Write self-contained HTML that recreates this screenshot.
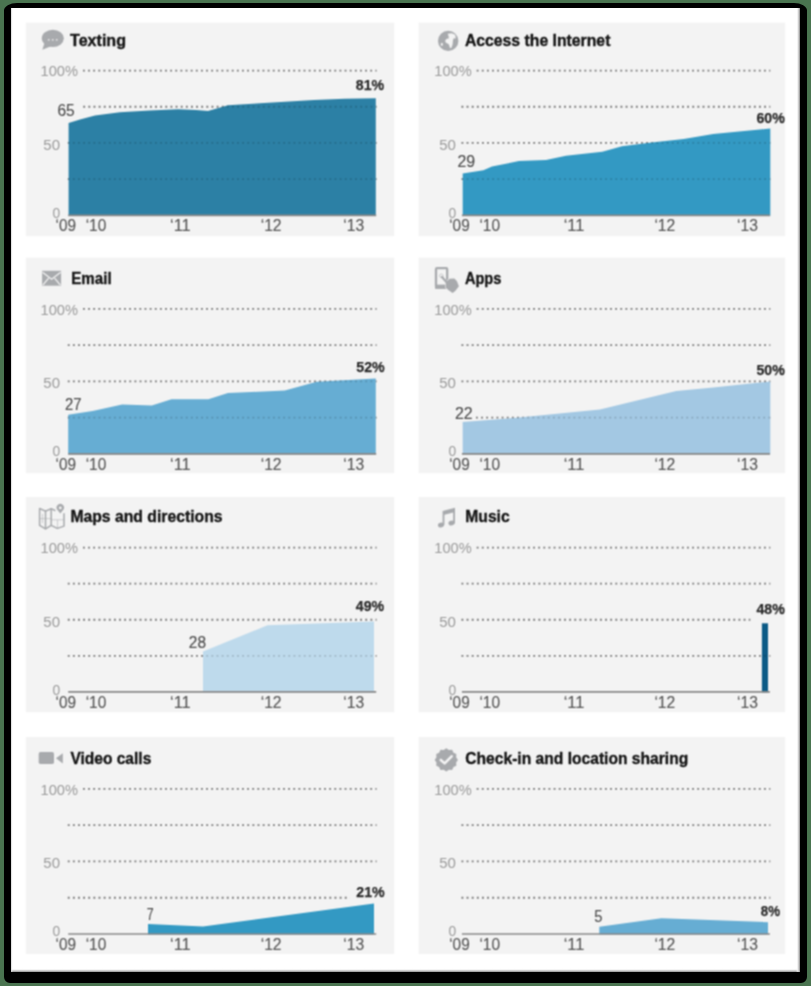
<!DOCTYPE html>
<html><head><meta charset="utf-8"><title>Cell phone activities</title>
<style>html,body{margin:0;padding:0;width:811px;height:986px;overflow:hidden;background:#4a7450;}#chart{position:absolute;left:0;top:0;font-family:"Liberation Sans", sans-serif;}svg text{font-family:"Liberation Sans", sans-serif;}</style>
</head><body>
<svg width="811" height="986" viewBox="0 0 811 986" id="chart"><defs><filter id="soft" x="0" y="0" width="100%" height="100%" color-interpolation-filters="sRGB"><feConvolveMatrix order="3" kernelMatrix="1 2.0 1 2.0 4.0 2.0 1 2.0 1" divisor="16.0" edgeMode="duplicate" preserveAlpha="true"/></filter><linearGradient id="bevB" x1="0" y1="0" x2="0" y2="1"><stop offset="0" stop-color="#fff" stop-opacity="0"/><stop offset="0.5" stop-color="#e8e8e8"/><stop offset="1" stop-color="#8c8c8c"/></linearGradient><linearGradient id="bevR" x1="0" y1="0" x2="1" y2="0"><stop offset="0" stop-color="#fff" stop-opacity="0"/><stop offset="0.5" stop-color="#e6e6e6"/><stop offset="1" stop-color="#8c8c8c"/></linearGradient><linearGradient id="bevL" x1="0" y1="0" x2="1" y2="0"><stop offset="0" stop-color="#ccc"/><stop offset="1" stop-color="#fff" stop-opacity="0"/></linearGradient></defs><rect x="0" y="0" width="811" height="986" fill="#4a7450"/><path d="M17,3 H794 A13,7.5 0 0 1 807,10.5 V977 A6,6 0 0 1 801,983 H10 A6,6 0 0 1 4,977 V10.5 A13,7.5 0 0 1 17,3 Z" fill="#000"/><rect x="11" y="8" width="789" height="963.8" fill="#fff"/><rect x="11" y="968.3" width="789" height="3.5" fill="url(#bevB)"/><rect x="796" y="8" width="4" height="963.8" fill="url(#bevR)"/><rect x="11" y="8" width="2" height="963.8" fill="url(#bevL)"/><g filter="url(#soft)"><rect x="14" y="10" width="783" height="958" fill="#fff"/><rect x="25.8" y="22.6" width="368.50" height="213.60" fill="#f3f3f3"/><rect x="418.6" y="22.6" width="366.60" height="213.60" fill="#f3f3f3"/><rect x="25.8" y="257.6" width="368.50" height="215.60" fill="#f3f3f3"/><rect x="418.6" y="257.6" width="366.60" height="215.60" fill="#f3f3f3"/><rect x="25.8" y="497.0" width="368.50" height="215.30" fill="#f3f3f3"/><rect x="418.6" y="497.0" width="366.60" height="215.30" fill="#f3f3f3"/><rect x="25.8" y="737.0" width="368.50" height="217.00" fill="#f3f3f3"/><rect x="418.6" y="737.0" width="366.60" height="217.00" fill="#f3f3f3"/><g><line x1="83.00" y1="70.60" x2="376.60" y2="70.60" stroke="rgba(0,0,0,0.40)" stroke-width="1.8" stroke-dasharray="1.8 3.33"/><line x1="83.30" y1="106.77" x2="376.60" y2="106.77" stroke="rgba(0,0,0,0.40)" stroke-width="1.8" stroke-dasharray="1.8 3.33"/><line x1="67.80" y1="142.95" x2="376.60" y2="142.95" stroke="rgba(0,0,0,0.40)" stroke-width="1.8" stroke-dasharray="1.8 3.33"/><line x1="67.80" y1="179.12" x2="376.60" y2="179.12" stroke="rgba(0,0,0,0.40)" stroke-width="1.8" stroke-dasharray="1.8 3.33"/><line x1="476.70" y1="70.60" x2="770.30" y2="70.60" stroke="rgba(0,0,0,0.40)" stroke-width="1.8" stroke-dasharray="1.8 3.33"/><line x1="461.50" y1="106.77" x2="770.30" y2="106.77" stroke="rgba(0,0,0,0.40)" stroke-width="1.8" stroke-dasharray="1.8 3.33"/><line x1="461.50" y1="142.95" x2="770.30" y2="142.95" stroke="rgba(0,0,0,0.40)" stroke-width="1.8" stroke-dasharray="1.8 3.33"/><line x1="461.50" y1="179.12" x2="770.30" y2="179.12" stroke="rgba(0,0,0,0.40)" stroke-width="1.8" stroke-dasharray="1.8 3.33"/><line x1="83.00" y1="308.90" x2="376.60" y2="308.90" stroke="rgba(0,0,0,0.40)" stroke-width="1.8" stroke-dasharray="1.8 3.33"/><line x1="67.80" y1="345.15" x2="376.60" y2="345.15" stroke="rgba(0,0,0,0.40)" stroke-width="1.8" stroke-dasharray="1.8 3.33"/><line x1="67.80" y1="381.40" x2="376.60" y2="381.40" stroke="rgba(0,0,0,0.40)" stroke-width="1.8" stroke-dasharray="1.8 3.33"/><line x1="67.80" y1="417.65" x2="376.60" y2="417.65" stroke="rgba(0,0,0,0.40)" stroke-width="1.8" stroke-dasharray="1.8 3.33"/><line x1="476.70" y1="308.90" x2="770.30" y2="308.90" stroke="rgba(0,0,0,0.40)" stroke-width="1.8" stroke-dasharray="1.8 3.33"/><line x1="461.50" y1="345.15" x2="770.30" y2="345.15" stroke="rgba(0,0,0,0.40)" stroke-width="1.8" stroke-dasharray="1.8 3.33"/><line x1="461.50" y1="381.40" x2="770.30" y2="381.40" stroke="rgba(0,0,0,0.40)" stroke-width="1.8" stroke-dasharray="1.8 3.33"/><line x1="476.00" y1="417.65" x2="770.30" y2="417.65" stroke="rgba(0,0,0,0.40)" stroke-width="1.8" stroke-dasharray="1.8 3.33"/><line x1="83.00" y1="547.60" x2="376.60" y2="547.60" stroke="rgba(0,0,0,0.40)" stroke-width="1.8" stroke-dasharray="1.8 3.33"/><line x1="67.80" y1="583.67" x2="376.60" y2="583.67" stroke="rgba(0,0,0,0.40)" stroke-width="1.8" stroke-dasharray="1.8 3.33"/><line x1="67.80" y1="619.75" x2="376.60" y2="619.75" stroke="rgba(0,0,0,0.40)" stroke-width="1.8" stroke-dasharray="1.8 3.33"/><line x1="67.80" y1="655.83" x2="376.60" y2="655.83" stroke="rgba(0,0,0,0.40)" stroke-width="1.8" stroke-dasharray="1.8 3.33"/><line x1="476.70" y1="547.60" x2="770.30" y2="547.60" stroke="rgba(0,0,0,0.40)" stroke-width="1.8" stroke-dasharray="1.8 3.33"/><line x1="461.50" y1="583.67" x2="770.30" y2="583.67" stroke="rgba(0,0,0,0.40)" stroke-width="1.8" stroke-dasharray="1.8 3.33"/><line x1="461.50" y1="619.75" x2="750.30" y2="619.75" stroke="rgba(0,0,0,0.40)" stroke-width="1.8" stroke-dasharray="1.8 3.33"/><line x1="461.50" y1="655.83" x2="770.30" y2="655.83" stroke="rgba(0,0,0,0.40)" stroke-width="1.8" stroke-dasharray="1.8 3.33"/><line x1="83.00" y1="788.90" x2="376.60" y2="788.90" stroke="rgba(0,0,0,0.40)" stroke-width="1.8" stroke-dasharray="1.8 3.33"/><line x1="67.80" y1="825.17" x2="376.60" y2="825.17" stroke="rgba(0,0,0,0.40)" stroke-width="1.8" stroke-dasharray="1.8 3.33"/><line x1="67.80" y1="861.45" x2="376.60" y2="861.45" stroke="rgba(0,0,0,0.40)" stroke-width="1.8" stroke-dasharray="1.8 3.33"/><line x1="67.80" y1="897.73" x2="350.00" y2="897.73" stroke="rgba(0,0,0,0.40)" stroke-width="1.8" stroke-dasharray="1.8 3.33"/><line x1="476.70" y1="788.90" x2="770.30" y2="788.90" stroke="rgba(0,0,0,0.40)" stroke-width="1.8" stroke-dasharray="1.8 3.33"/><line x1="461.50" y1="825.17" x2="770.30" y2="825.17" stroke="rgba(0,0,0,0.40)" stroke-width="1.8" stroke-dasharray="1.8 3.33"/><line x1="461.50" y1="861.45" x2="770.30" y2="861.45" stroke="rgba(0,0,0,0.40)" stroke-width="1.8" stroke-dasharray="1.8 3.33"/><line x1="461.50" y1="897.73" x2="770.30" y2="897.73" stroke="rgba(0,0,0,0.40)" stroke-width="1.8" stroke-dasharray="1.8 3.33"/><path d="M68.60,215.90 L68.60,122.90 L80.00,119.50 L95.00,115.50 L120.00,112.20 L150.00,110.40 L178.00,109.30 L196.00,110.00 L208.00,110.90 L228.00,105.30 L260.00,103.20 L314.00,100.00 L345.00,98.80 L375.80,98.20 L375.80,215.90 Z" fill="#2c80a5"/><path d="M462.70,215.90 L462.70,173.40 L483.40,170.20 L492.00,166.50 L519.00,161.00 L546.00,160.00 L566.00,155.70 L602.30,151.70 L622.00,146.30 L651.70,142.60 L683.70,139.00 L713.30,134.00 L770.30,128.60 L770.30,215.90 Z" fill="#3399c3"/><path d="M68.20,454.50 L68.20,414.80 L92.60,411.10 L122.20,404.50 L151.80,405.50 L171.50,399.30 L208.30,399.30 L228.00,393.00 L284.80,390.60 L316.80,381.70 L375.80,378.60 L375.80,454.50 Z" fill="#66add3"/><path d="M462.70,454.50 L462.70,421.90 L516.60,417.80 L599.90,409.60 L676.30,391.10 L713.30,387.40 L770.30,381.40 L770.30,454.50 Z" fill="#a3c8e3"/><path d="M203.00,692.50 L203.00,651.60 L267.50,625.20 L374.00,621.50 L374.00,692.50 Z" fill="#bedaec"/><path d="M761.90,692.50 L761.90,623.30 L768.00,623.30 L768.00,692.50 Z" fill="#0c5b86"/><path d="M148.00,934.60 L148.00,924.00 L203.00,926.40 L374.00,903.40 L374.00,934.60 Z" fill="#3399c3"/><path d="M599.30,934.60 L599.30,926.70 L661.50,918.30 L768.00,922.20 L768.00,934.60 Z" fill="#66add3"/><line x1="83.00" y1="70.60" x2="376.60" y2="70.60" stroke="rgba(0,0,0,0.16)" stroke-width="1.8" stroke-dasharray="1.8 3.33"/><line x1="83.30" y1="106.77" x2="376.60" y2="106.77" stroke="rgba(0,0,0,0.16)" stroke-width="1.8" stroke-dasharray="1.8 3.33"/><line x1="67.80" y1="142.95" x2="376.60" y2="142.95" stroke="rgba(0,0,0,0.16)" stroke-width="1.8" stroke-dasharray="1.8 3.33"/><line x1="67.80" y1="179.12" x2="376.60" y2="179.12" stroke="rgba(0,0,0,0.16)" stroke-width="1.8" stroke-dasharray="1.8 3.33"/><line x1="476.70" y1="70.60" x2="770.30" y2="70.60" stroke="rgba(0,0,0,0.16)" stroke-width="1.8" stroke-dasharray="1.8 3.33"/><line x1="461.50" y1="106.77" x2="770.30" y2="106.77" stroke="rgba(0,0,0,0.16)" stroke-width="1.8" stroke-dasharray="1.8 3.33"/><line x1="461.50" y1="142.95" x2="770.30" y2="142.95" stroke="rgba(0,0,0,0.16)" stroke-width="1.8" stroke-dasharray="1.8 3.33"/><line x1="461.50" y1="179.12" x2="770.30" y2="179.12" stroke="rgba(0,0,0,0.16)" stroke-width="1.8" stroke-dasharray="1.8 3.33"/><line x1="83.00" y1="308.90" x2="376.60" y2="308.90" stroke="rgba(0,0,0,0.16)" stroke-width="1.8" stroke-dasharray="1.8 3.33"/><line x1="67.80" y1="345.15" x2="376.60" y2="345.15" stroke="rgba(0,0,0,0.16)" stroke-width="1.8" stroke-dasharray="1.8 3.33"/><line x1="67.80" y1="381.40" x2="376.60" y2="381.40" stroke="rgba(0,0,0,0.16)" stroke-width="1.8" stroke-dasharray="1.8 3.33"/><line x1="67.80" y1="417.65" x2="376.60" y2="417.65" stroke="rgba(0,0,0,0.16)" stroke-width="1.8" stroke-dasharray="1.8 3.33"/><line x1="476.70" y1="308.90" x2="770.30" y2="308.90" stroke="rgba(0,0,0,0.16)" stroke-width="1.8" stroke-dasharray="1.8 3.33"/><line x1="461.50" y1="345.15" x2="770.30" y2="345.15" stroke="rgba(0,0,0,0.16)" stroke-width="1.8" stroke-dasharray="1.8 3.33"/><line x1="461.50" y1="381.40" x2="770.30" y2="381.40" stroke="rgba(0,0,0,0.16)" stroke-width="1.8" stroke-dasharray="1.8 3.33"/><line x1="476.00" y1="417.65" x2="770.30" y2="417.65" stroke="rgba(0,0,0,0.16)" stroke-width="1.8" stroke-dasharray="1.8 3.33"/><line x1="83.00" y1="547.60" x2="376.60" y2="547.60" stroke="rgba(0,0,0,0.16)" stroke-width="1.8" stroke-dasharray="1.8 3.33"/><line x1="67.80" y1="583.67" x2="376.60" y2="583.67" stroke="rgba(0,0,0,0.16)" stroke-width="1.8" stroke-dasharray="1.8 3.33"/><line x1="67.80" y1="619.75" x2="376.60" y2="619.75" stroke="rgba(0,0,0,0.16)" stroke-width="1.8" stroke-dasharray="1.8 3.33"/><line x1="67.80" y1="655.83" x2="376.60" y2="655.83" stroke="rgba(0,0,0,0.16)" stroke-width="1.8" stroke-dasharray="1.8 3.33"/><line x1="476.70" y1="547.60" x2="770.30" y2="547.60" stroke="rgba(0,0,0,0.16)" stroke-width="1.8" stroke-dasharray="1.8 3.33"/><line x1="461.50" y1="583.67" x2="770.30" y2="583.67" stroke="rgba(0,0,0,0.16)" stroke-width="1.8" stroke-dasharray="1.8 3.33"/><line x1="461.50" y1="619.75" x2="750.30" y2="619.75" stroke="rgba(0,0,0,0.16)" stroke-width="1.8" stroke-dasharray="1.8 3.33"/><line x1="461.50" y1="655.83" x2="770.30" y2="655.83" stroke="rgba(0,0,0,0.16)" stroke-width="1.8" stroke-dasharray="1.8 3.33"/><line x1="83.00" y1="788.90" x2="376.60" y2="788.90" stroke="rgba(0,0,0,0.16)" stroke-width="1.8" stroke-dasharray="1.8 3.33"/><line x1="67.80" y1="825.17" x2="376.60" y2="825.17" stroke="rgba(0,0,0,0.16)" stroke-width="1.8" stroke-dasharray="1.8 3.33"/><line x1="67.80" y1="861.45" x2="376.60" y2="861.45" stroke="rgba(0,0,0,0.16)" stroke-width="1.8" stroke-dasharray="1.8 3.33"/><line x1="67.80" y1="897.73" x2="350.00" y2="897.73" stroke="rgba(0,0,0,0.16)" stroke-width="1.8" stroke-dasharray="1.8 3.33"/><line x1="476.70" y1="788.90" x2="770.30" y2="788.90" stroke="rgba(0,0,0,0.16)" stroke-width="1.8" stroke-dasharray="1.8 3.33"/><line x1="461.50" y1="825.17" x2="770.30" y2="825.17" stroke="rgba(0,0,0,0.16)" stroke-width="1.8" stroke-dasharray="1.8 3.33"/><line x1="461.50" y1="861.45" x2="770.30" y2="861.45" stroke="rgba(0,0,0,0.16)" stroke-width="1.8" stroke-dasharray="1.8 3.33"/><line x1="461.50" y1="897.73" x2="770.30" y2="897.73" stroke="rgba(0,0,0,0.16)" stroke-width="1.8" stroke-dasharray="1.8 3.33"/><line x1="68.20" y1="215.30" x2="376.20" y2="215.30" stroke="#888888" stroke-width="1.7"/><line x1="68.20" y1="453.90" x2="376.20" y2="453.90" stroke="#888888" stroke-width="1.7"/><line x1="68.20" y1="691.90" x2="376.20" y2="691.90" stroke="#888888" stroke-width="1.7"/><line x1="68.20" y1="934.00" x2="376.20" y2="934.00" stroke="#888888" stroke-width="1.7"/><line x1="461.90" y1="215.30" x2="769.90" y2="215.30" stroke="#888888" stroke-width="1.7"/><line x1="461.90" y1="453.90" x2="769.90" y2="453.90" stroke="#888888" stroke-width="1.7"/><line x1="461.90" y1="691.90" x2="769.90" y2="691.90" stroke="#888888" stroke-width="1.7"/><line x1="461.90" y1="934.00" x2="769.90" y2="934.00" stroke="#888888" stroke-width="1.7"/><text x="70.00" y="45.80" font-size="16.2" font-weight="bold" fill="#141414" stroke="#141414" stroke-width="0.35" textLength="56.00" lengthAdjust="spacingAndGlyphs" text-anchor="start">Texting</text><text x="40.60" y="76.20" font-size="15" font-weight="normal" fill="#9a9a9a" textLength="37.40" lengthAdjust="spacingAndGlyphs" text-anchor="start">100%</text><text x="43.30" y="149.90" font-size="15.4" font-weight="normal" fill="#9a9a9a" textLength="16.70" lengthAdjust="spacingAndGlyphs" text-anchor="start">50</text><text x="52.50" y="217.60" font-size="15.5" font-weight="normal" fill="#9a9a9a" textLength="7.70" lengthAdjust="spacingAndGlyphs" text-anchor="start">0</text><text x="55.50" y="231.40" font-size="16" font-weight="normal" fill="#555555" stroke="#555555" stroke-width="0.12" textLength="20.50" lengthAdjust="spacingAndGlyphs" text-anchor="start">‘09</text><text x="85.70" y="231.40" font-size="16" font-weight="normal" fill="#555555" stroke="#555555" stroke-width="0.12" textLength="20.60" lengthAdjust="spacingAndGlyphs" text-anchor="start">‘10</text><text x="170.00" y="231.40" font-size="16" font-weight="normal" fill="#555555" stroke="#555555" stroke-width="0.12" textLength="20.70" lengthAdjust="spacingAndGlyphs" text-anchor="start">‘11</text><text x="260.70" y="231.40" font-size="16" font-weight="normal" fill="#555555" stroke="#555555" stroke-width="0.12" textLength="20.90" lengthAdjust="spacingAndGlyphs" text-anchor="start">‘12</text><text x="343.30" y="231.40" font-size="16" font-weight="normal" fill="#555555" stroke="#555555" stroke-width="0.12" textLength="20.90" lengthAdjust="spacingAndGlyphs" text-anchor="start">‘13</text><text x="464.90" y="45.80" font-size="16.2" font-weight="bold" fill="#141414" stroke="#141414" stroke-width="0.35" textLength="145.50" lengthAdjust="spacingAndGlyphs" text-anchor="start">Access the Internet</text><text x="434.30" y="76.20" font-size="15" font-weight="normal" fill="#9a9a9a" textLength="37.40" lengthAdjust="spacingAndGlyphs" text-anchor="start">100%</text><text x="439.20" y="149.90" font-size="15.4" font-weight="normal" fill="#9a9a9a" textLength="16.70" lengthAdjust="spacingAndGlyphs" text-anchor="start">50</text><text x="448.40" y="217.60" font-size="15.5" font-weight="normal" fill="#9a9a9a" textLength="7.70" lengthAdjust="spacingAndGlyphs" text-anchor="start">0</text><text x="449.20" y="231.40" font-size="16" font-weight="normal" fill="#555555" stroke="#555555" stroke-width="0.12" textLength="20.50" lengthAdjust="spacingAndGlyphs" text-anchor="start">‘09</text><text x="479.40" y="231.40" font-size="16" font-weight="normal" fill="#555555" stroke="#555555" stroke-width="0.12" textLength="20.60" lengthAdjust="spacingAndGlyphs" text-anchor="start">‘10</text><text x="563.70" y="231.40" font-size="16" font-weight="normal" fill="#555555" stroke="#555555" stroke-width="0.12" textLength="20.70" lengthAdjust="spacingAndGlyphs" text-anchor="start">‘11</text><text x="654.40" y="231.40" font-size="16" font-weight="normal" fill="#555555" stroke="#555555" stroke-width="0.12" textLength="20.90" lengthAdjust="spacingAndGlyphs" text-anchor="start">‘12</text><text x="737.00" y="231.40" font-size="16" font-weight="normal" fill="#555555" stroke="#555555" stroke-width="0.12" textLength="20.90" lengthAdjust="spacingAndGlyphs" text-anchor="start">‘13</text><text x="71.30" y="284.30" font-size="16.2" font-weight="bold" fill="#141414" stroke="#141414" stroke-width="0.35" textLength="40.30" lengthAdjust="spacingAndGlyphs" text-anchor="start">Email</text><text x="40.60" y="314.70" font-size="15" font-weight="normal" fill="#9a9a9a" textLength="37.40" lengthAdjust="spacingAndGlyphs" text-anchor="start">100%</text><text x="43.30" y="388.40" font-size="15.4" font-weight="normal" fill="#9a9a9a" textLength="16.70" lengthAdjust="spacingAndGlyphs" text-anchor="start">50</text><text x="52.50" y="456.10" font-size="15.5" font-weight="normal" fill="#9a9a9a" textLength="7.70" lengthAdjust="spacingAndGlyphs" text-anchor="start">0</text><text x="55.50" y="469.60" font-size="16" font-weight="normal" fill="#555555" stroke="#555555" stroke-width="0.12" textLength="20.50" lengthAdjust="spacingAndGlyphs" text-anchor="start">‘09</text><text x="85.70" y="469.60" font-size="16" font-weight="normal" fill="#555555" stroke="#555555" stroke-width="0.12" textLength="20.60" lengthAdjust="spacingAndGlyphs" text-anchor="start">‘10</text><text x="170.00" y="469.60" font-size="16" font-weight="normal" fill="#555555" stroke="#555555" stroke-width="0.12" textLength="20.70" lengthAdjust="spacingAndGlyphs" text-anchor="start">‘11</text><text x="260.70" y="469.60" font-size="16" font-weight="normal" fill="#555555" stroke="#555555" stroke-width="0.12" textLength="20.90" lengthAdjust="spacingAndGlyphs" text-anchor="start">‘12</text><text x="343.30" y="469.60" font-size="16" font-weight="normal" fill="#555555" stroke="#555555" stroke-width="0.12" textLength="20.90" lengthAdjust="spacingAndGlyphs" text-anchor="start">‘13</text><text x="464.90" y="284.30" font-size="16.2" font-weight="bold" fill="#141414" stroke="#141414" stroke-width="0.35" textLength="36.50" lengthAdjust="spacingAndGlyphs" text-anchor="start">Apps</text><text x="434.30" y="314.70" font-size="15" font-weight="normal" fill="#9a9a9a" textLength="37.40" lengthAdjust="spacingAndGlyphs" text-anchor="start">100%</text><text x="439.20" y="388.40" font-size="15.4" font-weight="normal" fill="#9a9a9a" textLength="16.70" lengthAdjust="spacingAndGlyphs" text-anchor="start">50</text><text x="448.40" y="456.10" font-size="15.5" font-weight="normal" fill="#9a9a9a" textLength="7.70" lengthAdjust="spacingAndGlyphs" text-anchor="start">0</text><text x="449.20" y="469.60" font-size="16" font-weight="normal" fill="#555555" stroke="#555555" stroke-width="0.12" textLength="20.50" lengthAdjust="spacingAndGlyphs" text-anchor="start">‘09</text><text x="479.40" y="469.60" font-size="16" font-weight="normal" fill="#555555" stroke="#555555" stroke-width="0.12" textLength="20.60" lengthAdjust="spacingAndGlyphs" text-anchor="start">‘10</text><text x="563.70" y="469.60" font-size="16" font-weight="normal" fill="#555555" stroke="#555555" stroke-width="0.12" textLength="20.70" lengthAdjust="spacingAndGlyphs" text-anchor="start">‘11</text><text x="654.40" y="469.60" font-size="16" font-weight="normal" fill="#555555" stroke="#555555" stroke-width="0.12" textLength="20.90" lengthAdjust="spacingAndGlyphs" text-anchor="start">‘12</text><text x="737.00" y="469.60" font-size="16" font-weight="normal" fill="#555555" stroke="#555555" stroke-width="0.12" textLength="20.90" lengthAdjust="spacingAndGlyphs" text-anchor="start">‘13</text><text x="70.40" y="522.10" font-size="16.2" font-weight="bold" fill="#141414" stroke="#141414" stroke-width="0.35" textLength="152.20" lengthAdjust="spacingAndGlyphs" text-anchor="start">Maps and directions</text><text x="40.60" y="553.20" font-size="15" font-weight="normal" fill="#9a9a9a" textLength="37.40" lengthAdjust="spacingAndGlyphs" text-anchor="start">100%</text><text x="43.30" y="626.90" font-size="15.4" font-weight="normal" fill="#9a9a9a" textLength="16.70" lengthAdjust="spacingAndGlyphs" text-anchor="start">50</text><text x="52.50" y="694.60" font-size="15.5" font-weight="normal" fill="#9a9a9a" textLength="7.70" lengthAdjust="spacingAndGlyphs" text-anchor="start">0</text><text x="55.50" y="708.40" font-size="16" font-weight="normal" fill="#555555" stroke="#555555" stroke-width="0.12" textLength="20.50" lengthAdjust="spacingAndGlyphs" text-anchor="start">‘09</text><text x="85.70" y="708.40" font-size="16" font-weight="normal" fill="#555555" stroke="#555555" stroke-width="0.12" textLength="20.60" lengthAdjust="spacingAndGlyphs" text-anchor="start">‘10</text><text x="170.00" y="708.40" font-size="16" font-weight="normal" fill="#555555" stroke="#555555" stroke-width="0.12" textLength="20.70" lengthAdjust="spacingAndGlyphs" text-anchor="start">‘11</text><text x="260.70" y="708.40" font-size="16" font-weight="normal" fill="#555555" stroke="#555555" stroke-width="0.12" textLength="20.90" lengthAdjust="spacingAndGlyphs" text-anchor="start">‘12</text><text x="343.30" y="708.40" font-size="16" font-weight="normal" fill="#555555" stroke="#555555" stroke-width="0.12" textLength="20.90" lengthAdjust="spacingAndGlyphs" text-anchor="start">‘13</text><text x="465.30" y="522.10" font-size="16.2" font-weight="bold" fill="#141414" stroke="#141414" stroke-width="0.35" textLength="44.40" lengthAdjust="spacingAndGlyphs" text-anchor="start">Music</text><text x="434.30" y="553.20" font-size="15" font-weight="normal" fill="#9a9a9a" textLength="37.40" lengthAdjust="spacingAndGlyphs" text-anchor="start">100%</text><text x="439.20" y="626.90" font-size="15.4" font-weight="normal" fill="#9a9a9a" textLength="16.70" lengthAdjust="spacingAndGlyphs" text-anchor="start">50</text><text x="448.40" y="694.60" font-size="15.5" font-weight="normal" fill="#9a9a9a" textLength="7.70" lengthAdjust="spacingAndGlyphs" text-anchor="start">0</text><text x="449.20" y="708.40" font-size="16" font-weight="normal" fill="#555555" stroke="#555555" stroke-width="0.12" textLength="20.50" lengthAdjust="spacingAndGlyphs" text-anchor="start">‘09</text><text x="479.40" y="708.40" font-size="16" font-weight="normal" fill="#555555" stroke="#555555" stroke-width="0.12" textLength="20.60" lengthAdjust="spacingAndGlyphs" text-anchor="start">‘10</text><text x="563.70" y="708.40" font-size="16" font-weight="normal" fill="#555555" stroke="#555555" stroke-width="0.12" textLength="20.70" lengthAdjust="spacingAndGlyphs" text-anchor="start">‘11</text><text x="654.40" y="708.40" font-size="16" font-weight="normal" fill="#555555" stroke="#555555" stroke-width="0.12" textLength="20.90" lengthAdjust="spacingAndGlyphs" text-anchor="start">‘12</text><text x="737.00" y="708.40" font-size="16" font-weight="normal" fill="#555555" stroke="#555555" stroke-width="0.12" textLength="20.90" lengthAdjust="spacingAndGlyphs" text-anchor="start">‘13</text><text x="70.40" y="764.00" font-size="16.2" font-weight="bold" fill="#141414" stroke="#141414" stroke-width="0.35" textLength="80.90" lengthAdjust="spacingAndGlyphs" text-anchor="start">Video calls</text><text x="40.60" y="794.60" font-size="15" font-weight="normal" fill="#9a9a9a" textLength="37.40" lengthAdjust="spacingAndGlyphs" text-anchor="start">100%</text><text x="43.30" y="868.30" font-size="15.4" font-weight="normal" fill="#9a9a9a" textLength="16.70" lengthAdjust="spacingAndGlyphs" text-anchor="start">50</text><text x="52.50" y="936.00" font-size="15.5" font-weight="normal" fill="#9a9a9a" textLength="7.70" lengthAdjust="spacingAndGlyphs" text-anchor="start">0</text><text x="55.50" y="949.80" font-size="16" font-weight="normal" fill="#555555" stroke="#555555" stroke-width="0.12" textLength="20.50" lengthAdjust="spacingAndGlyphs" text-anchor="start">‘09</text><text x="85.70" y="949.80" font-size="16" font-weight="normal" fill="#555555" stroke="#555555" stroke-width="0.12" textLength="20.60" lengthAdjust="spacingAndGlyphs" text-anchor="start">‘10</text><text x="170.00" y="949.80" font-size="16" font-weight="normal" fill="#555555" stroke="#555555" stroke-width="0.12" textLength="20.70" lengthAdjust="spacingAndGlyphs" text-anchor="start">‘11</text><text x="260.70" y="949.80" font-size="16" font-weight="normal" fill="#555555" stroke="#555555" stroke-width="0.12" textLength="20.90" lengthAdjust="spacingAndGlyphs" text-anchor="start">‘12</text><text x="343.30" y="949.80" font-size="16" font-weight="normal" fill="#555555" stroke="#555555" stroke-width="0.12" textLength="20.90" lengthAdjust="spacingAndGlyphs" text-anchor="start">‘13</text><text x="465.30" y="764.00" font-size="16.2" font-weight="bold" fill="#141414" stroke="#141414" stroke-width="0.35" textLength="222.90" lengthAdjust="spacingAndGlyphs" text-anchor="start">Check-in and location sharing</text><text x="434.30" y="794.60" font-size="15" font-weight="normal" fill="#9a9a9a" textLength="37.40" lengthAdjust="spacingAndGlyphs" text-anchor="start">100%</text><text x="439.20" y="868.30" font-size="15.4" font-weight="normal" fill="#9a9a9a" textLength="16.70" lengthAdjust="spacingAndGlyphs" text-anchor="start">50</text><text x="448.40" y="936.00" font-size="15.5" font-weight="normal" fill="#9a9a9a" textLength="7.70" lengthAdjust="spacingAndGlyphs" text-anchor="start">0</text><text x="449.20" y="949.80" font-size="16" font-weight="normal" fill="#555555" stroke="#555555" stroke-width="0.12" textLength="20.50" lengthAdjust="spacingAndGlyphs" text-anchor="start">‘09</text><text x="479.40" y="949.80" font-size="16" font-weight="normal" fill="#555555" stroke="#555555" stroke-width="0.12" textLength="20.60" lengthAdjust="spacingAndGlyphs" text-anchor="start">‘10</text><text x="563.70" y="949.80" font-size="16" font-weight="normal" fill="#555555" stroke="#555555" stroke-width="0.12" textLength="20.70" lengthAdjust="spacingAndGlyphs" text-anchor="start">‘11</text><text x="654.40" y="949.80" font-size="16" font-weight="normal" fill="#555555" stroke="#555555" stroke-width="0.12" textLength="20.90" lengthAdjust="spacingAndGlyphs" text-anchor="start">‘12</text><text x="737.00" y="949.80" font-size="16" font-weight="normal" fill="#555555" stroke="#555555" stroke-width="0.12" textLength="20.90" lengthAdjust="spacingAndGlyphs" text-anchor="start">‘13</text><text x="57.40" y="115.50" font-size="15.6" font-weight="normal" fill="#4a4a4a" stroke="#4a4a4a" stroke-width="0.1" textLength="17.30" lengthAdjust="spacingAndGlyphs" text-anchor="start">65</text><text x="457.50" y="167.30" font-size="15.6" font-weight="normal" fill="#4a4a4a" stroke="#4a4a4a" stroke-width="0.1" textLength="17.70" lengthAdjust="spacingAndGlyphs" text-anchor="start">29</text><text x="65.00" y="410.00" font-size="15.6" font-weight="normal" fill="#4a4a4a" stroke="#4a4a4a" stroke-width="0.1" textLength="16.50" lengthAdjust="spacingAndGlyphs" text-anchor="start">27</text><text x="455.00" y="418.90" font-size="15.6" font-weight="normal" fill="#4a4a4a" stroke="#4a4a4a" stroke-width="0.1" textLength="17.70" lengthAdjust="spacingAndGlyphs" text-anchor="start">22</text><text x="188.80" y="648.40" font-size="15.6" font-weight="normal" fill="#4a4a4a" stroke="#4a4a4a" stroke-width="0.1" textLength="17.20" lengthAdjust="spacingAndGlyphs" text-anchor="start">28</text><text x="146.80" y="919.80" font-size="15.6" font-weight="normal" fill="#4a4a4a" stroke="#4a4a4a" stroke-width="0.1" textLength="6.90" lengthAdjust="spacingAndGlyphs" text-anchor="start">7</text><text x="594.30" y="922.00" font-size="15.6" font-weight="normal" fill="#4a4a4a" stroke="#4a4a4a" stroke-width="0.1" textLength="8.20" lengthAdjust="spacingAndGlyphs" text-anchor="start">5</text><text x="355.80" y="90.20" font-size="15.2" font-weight="bold" fill="#2a2a2a" stroke="#2a2a2a" stroke-width="0.25" textLength="28.30" lengthAdjust="spacingAndGlyphs" text-anchor="start">81%</text><text x="756.50" y="123.00" font-size="15.2" font-weight="bold" fill="#2a2a2a" stroke="#2a2a2a" stroke-width="0.25" textLength="28.30" lengthAdjust="spacingAndGlyphs" text-anchor="start">60%</text><text x="356.30" y="372.40" font-size="15.2" font-weight="bold" fill="#2a2a2a" stroke="#2a2a2a" stroke-width="0.25" textLength="28.40" lengthAdjust="spacingAndGlyphs" text-anchor="start">52%</text><text x="756.50" y="374.60" font-size="15.2" font-weight="bold" fill="#2a2a2a" stroke="#2a2a2a" stroke-width="0.25" textLength="28.30" lengthAdjust="spacingAndGlyphs" text-anchor="start">50%</text><text x="355.80" y="611.40" font-size="15.2" font-weight="bold" fill="#2a2a2a" stroke="#2a2a2a" stroke-width="0.25" textLength="28.30" lengthAdjust="spacingAndGlyphs" text-anchor="start">49%</text><text x="756.50" y="613.70" font-size="15.2" font-weight="bold" fill="#2a2a2a" stroke="#2a2a2a" stroke-width="0.25" textLength="28.30" lengthAdjust="spacingAndGlyphs" text-anchor="start">48%</text><text x="356.30" y="896.70" font-size="15.2" font-weight="bold" fill="#2a2a2a" stroke="#2a2a2a" stroke-width="0.25" textLength="28.40" lengthAdjust="spacingAndGlyphs" text-anchor="start">21%</text><text x="760.80" y="916.30" font-size="15.2" font-weight="bold" fill="#2a2a2a" stroke="#2a2a2a" stroke-width="0.25" textLength="19.20" lengthAdjust="spacingAndGlyphs" text-anchor="start">8%</text><g fill="#a8aaad"><ellipse cx="52.8" cy="38.3" rx="11" ry="8.6"/><path d="M44.5,43 L42.3,49.8 L51,46.3 Z"/></g><g fill="#f3f3f3"><rect x="47.9" y="39.2" width="1.6" height="1.3"/><rect x="51.9" y="39.2" width="1.6" height="1.3"/><rect x="55.9" y="39.2" width="1.6" height="1.3"/></g><circle cx="448.2" cy="40.9" r="10.2" fill="#a8aaad"/><path fill="#f3f3f3" d="M447.6,33.8 L451.8,33.3 L455.2,34.8 L455.8,38.2 L453.5,38.6 L452.9,40.7 L452.6,44.4 L451.4,47.8 L450.1,48.2 L448.9,44.4 L447.6,43.6 L445.9,42.8 L445.1,40.7 L446.4,39 L448.9,38.2 L448.4,35.6 Z"/><ellipse cx="441.8" cy="44.3" rx="1" ry="1.6" fill="#f3f3f3"/><rect x="42.1" y="270.8" width="19" height="14.9" fill="#a8aaad"/><g stroke="#f3f3f3" stroke-width="1.3" fill="none"><path d="M42.5,272.2 L51.6,279.2 L60.7,272.2"/><path d="M42.8,285.2 L48.6,278.2"/><path d="M60.4,285.2 L54.6,278.2"/></g><g fill="none" stroke="#a8aaad" stroke-width="2.3"><rect x="436" y="268.2" width="11.2" height="19.4" rx="1"/></g><rect x="435" y="284.6" width="13" height="4.2" fill="#a8aaad"/><circle cx="441.3" cy="275.8" r="1.8" fill="none" stroke="#a8aaad" stroke-width="0.9" opacity="0.6"/><path fill="#a8aaad" stroke="#f3f3f3" stroke-width="1.1" paint-order="stroke" d="M445.9,281.7 L449.7,278.8 L454.3,278.4 L456.8,280.9 L458.9,286.3 L455.2,290.9 L452.6,293 L448,289.7 L445.5,287.2 Z"/><path d="M442,277 L449,285" stroke="#a8aaad" stroke-width="2.2" stroke-linecap="round"/><g fill="none" stroke="#a8aaad" stroke-width="1.5" stroke-linejoin="round" stroke-linecap="round"><path d="M54.9,510.5 L51.2,508.7 L45.5,511.1 L39.6,508.5 L39.6,525.3 L45.5,528.8 L51.2,525.3 L57.3,528.4 L64,526.1 L64,513.8"/><path d="M45.5,511.1 V528.8 M51.2,508.7 V525.3"/></g><g fill="none" stroke="#a8aaad" stroke-width="1" opacity="0.5"><path d="M39.6,518.6 H51.2 M51.2,519.8 L64,519.8 M57.5,520 V528.2 M42.5,514 V523"/></g><path fill="#a8aaad" d="M60.3,513.6 L57.1,509.4 A3.7,3.7 0 1 1 63.5,509.4 Z"/><circle cx="60.3" cy="507.9" r="1.4" fill="#f3f3f3"/><g fill="#a8aaad"><path d="M442.6,511 L455,507.8 L455,523.5 L453.2,523.5 L453.2,512.6 L444.4,514.8 L444.4,525 L442.6,525 Z"/><ellipse cx="441" cy="525" rx="3.1" ry="2.4" transform="rotate(-20 441 525)"/><ellipse cx="451.5" cy="523" rx="3.1" ry="2.4" transform="rotate(-20 451.5 523)"/></g><g fill="#a8aaad"><rect x="38.7" y="752.1" width="15.3" height="12" rx="1.8"/><path d="M56,758.3 L62.8,753.2 L62.8,763.4 Z"/></g><polygon fill="#a8aaad" points="446.30,748.30 448.94,750.05 452.10,749.85 453.51,752.69 456.35,754.10 456.15,757.26 457.90,759.90 456.15,762.54 456.35,765.70 453.51,767.11 452.10,769.95 448.94,769.75 446.30,771.50 443.66,769.75 440.50,769.95 439.09,767.11 436.25,765.70 436.45,762.54 434.70,759.90 436.45,757.26 436.25,754.10 439.09,752.69 440.50,749.85 443.66,750.05"/><path d="M440.8,760 L444.6,763.4 L451.6,756.3" fill="none" stroke="#f3f3f3" stroke-width="2.6" stroke-linecap="round" stroke-linejoin="round"/></g></g></svg>
</body></html>
